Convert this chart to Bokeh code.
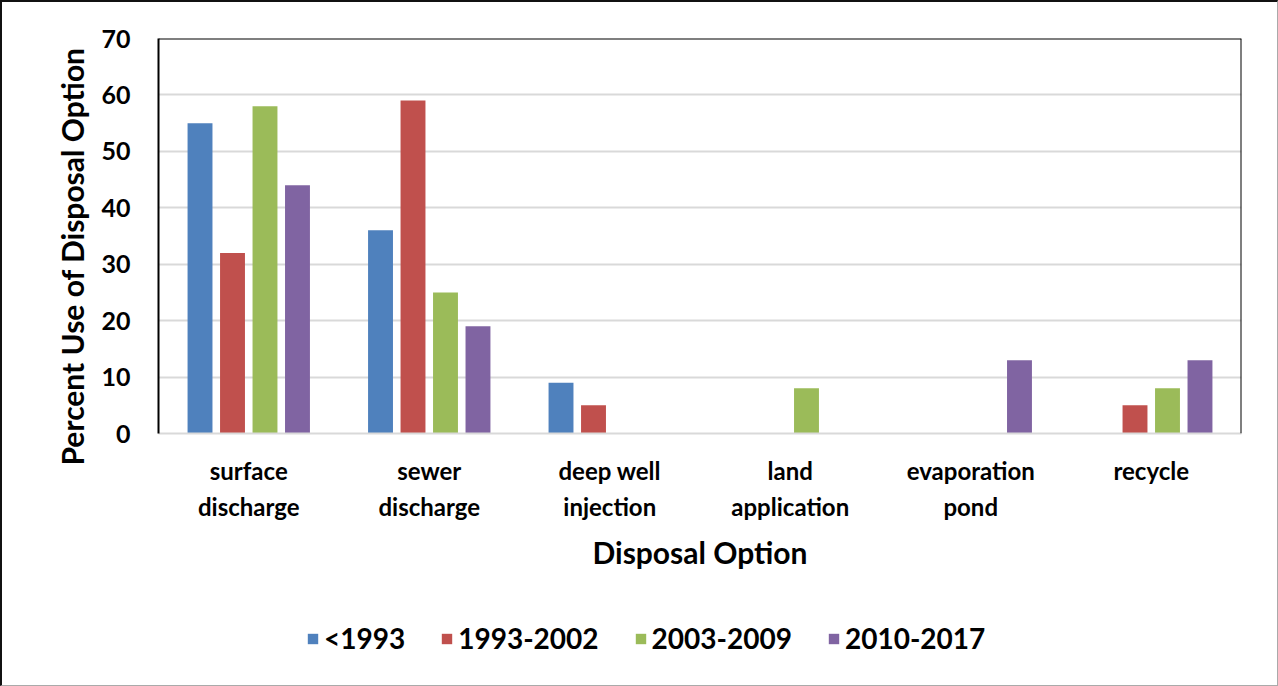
from bokeh.plotting import figure
from bokeh.layouts import column
from bokeh.models import (ColumnDataSource, FactorRange, Range1d, Legend, LegendItem,
                          Span, SingleIntervalTicker, Title)
from bokeh.transform import dodge
from bokeh.embed import file_html
from bokeh.resources import INLINE

# Disposal options (two-line labels) and the share of each option by period
categories = ["surface\ndischarge", "sewer\ndischarge", "deep well\ninjection",
              "land\napplication", "evaporation\npond", "recycle"]
periods = ["<1993", "1993-2002", "2003-2009", "2010-2017"]
before_1993 = [55, 36, 9, 0, 0, 0]
p1993_2002 = [32, 59, 5, 0, 0, 5]
p2003_2009 = [58, 25, 0, 8, 0, 8]
p2010_2017 = [44, 19, 0, 0, 13, 13]
colors = ["#4F81BD", "#C0504D", "#9BBB59", "#8064A2"]
y_ticks_max = 70

source = ColumnDataSource(dict(cat=categories, a=before_1993, b=p1993_2002,
                               c=p2003_2009, d=p2010_2017))

FONT = "Lato"

# ---- main chart ----
p = figure(x_range=FactorRange(*categories), y_range=Range1d(0, y_ticks_max),
           width=1275, height=600,
           min_border_left=156, min_border_right=36,
           min_border_top=36, min_border_bottom=169,
           output_backend="svg", toolbar_location=None)
p.outline_line_color = None
p.background_fill_color = "white"
p.border_fill_color = "white"

offsets = [-0.27, -0.09, 0.09, 0.27]
for key, off, col in zip(["a", "b", "c", "d"], offsets, colors):
    p.vbar(x=dodge("cat", off, range=p.x_range), top=key, width=0.138,
           source=source, fill_color=col, line_color=None)

# grid and axes
p.xgrid.grid_line_color = None
p.ygrid.grid_line_color = "#D9D9D9"
p.ygrid.grid_line_width = 2
p.yaxis.ticker = SingleIntervalTicker(interval=10)

p.yaxis.axis_line_color = "black"
p.yaxis.axis_line_width = 2
p.yaxis.major_tick_line_color = None
p.yaxis.minor_tick_line_color = None
p.yaxis.major_label_text_font = FONT
p.yaxis.major_label_text_font_style = "bold"
p.yaxis.major_label_text_font_size = "25px"
p.yaxis.major_label_text_color = "black"
p.yaxis.major_label_standoff = 22

# vertical title starts a little below the frame's bottom edge
y_title = Title(text="Percent Use of Disposal Option", align="left", offset=-32,
                text_font=FONT, text_font_style="bold", text_font_size="30px",
                text_color="black", standoff=18)
p.add_layout(y_title, "left")

p.xaxis.axis_line_color = "#D9D9D9"
p.xaxis.axis_line_width = 2
p.xaxis.major_tick_line_color = None
p.xaxis.minor_tick_line_color = None
p.xaxis.major_label_text_font = FONT
p.xaxis.major_label_text_font_style = "bold"
p.xaxis.major_label_text_font_size = "24px"
p.xaxis.major_label_text_color = "black"
p.xaxis.major_label_text_line_height = 1.25
p.xaxis.major_label_standoff = 16
p.xaxis.axis_label = "Disposal Option"
p.xaxis.axis_label_text_font = FONT
p.xaxis.axis_label_text_font_style = "bold"
p.xaxis.axis_label_text_font_size = "30px"
p.xaxis.axis_label_text_color = "black"
p.xaxis.axis_label_standoff = 10

# black frame edges on top and right
p.add_layout(Span(location=y_ticks_max, dimension="width", line_color="black", line_width=2))
p.add_layout(Span(location=len(categories), dimension="height", line_color="black", line_width=2))

# ---- legend strip under the chart ----
lg = figure(width=1275, height=83, x_range=Range1d(0, 1), y_range=Range1d(0, 1),
            min_border=0, x_axis_location=None, y_axis_location=None,
            output_backend="svg", toolbar_location=None)
lg.outline_line_color = None
lg.grid.grid_line_color = None
lg.background_fill_color = "white"
lg.border_fill_color = "white"

# zero-height swatch renderers: only their legend glyphs are visible
swatches = [lg.vbar(x=[0.5], top=[0], bottom=[0], width=0.1, fill_color=col, line_color=None)
            for col in colors]
legend = Legend(items=[LegendItem(label=lab, renderers=[r]) for lab, r in zip(periods, swatches)],
                orientation="horizontal", location=(148, 30),
                glyph_width=13, glyph_height=13, label_standoff=5, spacing=35,
                padding=0, margin=0, border_line_color=None, background_fill_alpha=0,
                label_text_font=FONT, label_text_font_style="bold",
                label_text_font_size="28px", label_text_color="black")
lg.add_layout(legend, "center")

page = column(p, lg, spacing=0)
page.styles = {"border-top": "2px solid #111", "border-left": "2px solid #111",
               "border-right": "1px solid #aaa", "border-bottom": "1px solid #aaa"}

open("out.html", "w").write(file_html(page, INLINE))
